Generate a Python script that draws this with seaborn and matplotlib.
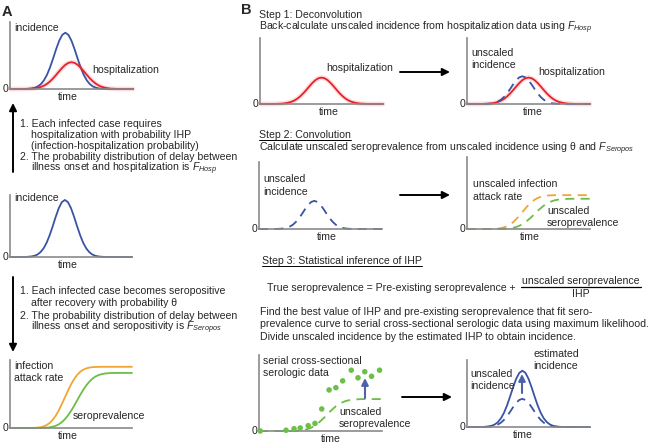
import matplotlib
matplotlib.use('Agg')
import matplotlib.pyplot as plt
import seaborn as sns

# time grid shared by every schematic curve
time_pts = [0, 0.25, 0.5, 0.75, 1, 1.25, 1.5, 1.75, 2, 2.25, 2.5, 2.75, 3, 3.25, 3.5, 3.75,
            4, 4.25, 4.5, 4.75, 5, 5.25, 5.5, 5.75, 6, 6.25, 6.5, 6.75, 7, 7.25, 7.5, 7.75,
            8, 8.25, 8.5, 8.75, 9, 9.25, 9.5, 9.75, 10]

# curve heights (fraction of each little axis)
incidence = [0, 0, 0, 0, 0, 0.001, 0.003, 0.008, 0.018, 0.037, 0.071, 0.127, 0.209, 0.32, 0.453,
             0.594, 0.72, 0.808, 0.84, 0.808, 0.72, 0.594, 0.453, 0.32, 0.209, 0.127, 0.071, 0.037,
             0.018, 0.008, 0.003, 0.001, 0, 0, 0, 0, 0, 0, 0, 0, 0]
incidence_mid = [0, 0, 0, 0, 0, 0.001, 0.004, 0.009, 0.019, 0.04, 0.078, 0.139, 0.229, 0.351, 0.496,
                 0.65, 0.788, 0.885, 0.92, 0.885, 0.788, 0.65, 0.496, 0.351, 0.229, 0.139, 0.078, 0.04,
                 0.019, 0.009, 0.004, 0.001, 0, 0, 0, 0, 0, 0, 0, 0, 0]
hospitalization = [0, 0, 0, 0, 0, 0.001, 0.003, 0.005, 0.01, 0.018, 0.03, 0.049, 0.076, 0.113, 0.158,
                   0.21, 0.265, 0.317, 0.361, 0.39, 0.4, 0.39, 0.361, 0.317, 0.265, 0.21, 0.158, 0.113,
                   0.076, 0.049, 0.03, 0.018, 0.01, 0.005, 0.003, 0.001, 0, 0, 0, 0, 0]
unscaled_incidence = [0, 0, 0, 0, 0, 0.001, 0.002, 0.004, 0.009, 0.018, 0.036, 0.063, 0.105, 0.16, 0.226,
                      0.297, 0.36, 0.404, 0.42, 0.404, 0.36, 0.297, 0.226, 0.16, 0.105, 0.063, 0.036, 0.018,
                      0.009, 0.004, 0.002, 0.001, 0, 0, 0, 0, 0, 0, 0, 0, 0]
attack_rate = [0, 0, 0, 0, 0, 0, 0, 0.001, 0.003, 0.005, 0.012, 0.023, 0.043, 0.074, 0.12, 0.182,
               0.26, 0.352, 0.45, 0.548, 0.64, 0.718, 0.78, 0.826, 0.857, 0.877, 0.888, 0.895, 0.897,
               0.899, 0.9, 0.9, 0.9, 0.9, 0.9, 0.9, 0.9, 0.9, 0.9, 0.9, 0.9]
seroprevalence = [0, 0, 0, 0, 0, 0, 0, 0, 0, 0, 0.001, 0.002, 0.005, 0.01, 0.019, 0.032, 0.054, 0.086,
                  0.129, 0.184, 0.25, 0.325, 0.405, 0.485, 0.56, 0.626, 0.681, 0.724, 0.756, 0.778,
                  0.791, 0.8, 0.805, 0.808, 0.809, 0.81, 0.81, 0.81, 0.81, 0.81, 0.81]
unscaled_attack = [0, 0, 0, 0, 0, 0, 0, 0, 0.001, 0.003, 0.006, 0.012, 0.023, 0.039, 0.063, 0.095,
                   0.136, 0.184, 0.235, 0.286, 0.334, 0.375, 0.407, 0.431, 0.447, 0.458, 0.464, 0.467,
                   0.469, 0.47, 0.47, 0.47, 0.47, 0.47, 0.47, 0.47, 0.47, 0.47, 0.47, 0.47, 0.47]
unscaled_sero = [0, 0, 0, 0, 0, 0, 0, 0, 0, 0, 0, 0.001, 0.003, 0.005, 0.01, 0.017, 0.028, 0.044,
                 0.067, 0.095, 0.13, 0.168, 0.21, 0.252, 0.29, 0.325, 0.353, 0.375, 0.392, 0.403,
                 0.41, 0.415, 0.417, 0.419, 0.42, 0.42, 0.42, 0.42, 0.42, 0.42, 0.42]

# serial cross-sectional serologic data (step 3)
sero_t = [0.1, 2.2, 2.85, 3.35, 4.0, 4.55, 5.1, 5.7, 6.25, 6.8, 7.5, 8.05, 8.6, 9.15, 9.8]
sero_y = [0.0, 0.01, 0.03, 0.04, 0.07, 0.1, 0.29, 0.54, 0.57, 0.66, 0.8, 0.7, 0.78, 0.72, 0.8]

text_a1 = ["1. Each infected case requires",
           "hospitalization with probability IHP",
           "(infection-hospitalization probability)",
           "2. The probability distribution of delay between",
           r"illness onset and hospitalization is $\mathit{F}_{\mathit{Hosp}}$"]
text_a2 = ["1. Each infected case becomes seropositive",
           "after recovery with probability θ",
           "2. The probability distribution of delay between",
           r"illness onset and seropositivity is $\mathit{F}_{\mathit{Seropos}}$"]
text_step3 = ["Find the best value of IHP and pre-existing seroprevalence that fit sero-",
              "prevalence curve to serial cross-sectional serologic data using maximum likelihood.",
              "Divide unscaled incidence by the estimated IHP to obtain incidence."]

sns.set_style('white')
plt.rcParams['font.family'] = ['Liberation Sans', 'DejaVu Sans']
plt.rcParams['mathtext.fontset'] = 'custom'
plt.rcParams['mathtext.rm'] = 'Liberation Sans'
plt.rcParams['mathtext.it'] = 'Liberation Sans:italic'

FS = 7.6
BLUE = '#3a54a4'
RED = '#e5222b'
ORANGE = '#f1a534'
GREEN = '#6cbd45'
AXC = '#8a8a8a'
DASH = (0, (5, 3.5))

W, H = 653, 445
fig = plt.figure(figsize=(W / 100, H / 100), dpi=100)
fig.patch.set_facecolor('white')

# overlay in pixel units for all the words and arrows
ov = fig.add_axes([0, 0, 1, 1])
ov.set_xlim(0, W)
ov.set_ylim(H, 0)
ov.axis('off')
ov.set_zorder(10)
ov.patch.set_visible(False)


def txt(x, y, s, **kw):
    kw.setdefault('fontsize', FS)
    kw.setdefault('ha', 'left')
    kw.setdefault('va', 'center')
    return ov.text(x, y, s, **kw)


def panel(x0, x1, top, bottom, time_x):
    ax = fig.add_axes([x0 / W, 1 - bottom / H, (x1 - x0) / W, (bottom - top) / H])
    for s in ['top', 'right']:
        ax.spines[s].set_visible(False)
    for s in ['left', 'bottom']:
        ax.spines[s].set_color(AXC)
        ax.spines[s].set_linewidth(1.2)
    ax.set_xticks([])
    ax.set_yticks([])
    ax.patch.set_visible(False)
    txt(x0 - 2, bottom, '0', ha='right')
    txt(time_x, bottom + 8, 'time', ha='center')
    return ax


def finish(ax):
    ax.set_xlim(0, 10)
    ax.set_ylim(0, 1)
    ax.set_xlabel('')
    ax.set_ylabel('')


def curve(ax, y, color, dashed=False, halo=False):
    if halo:
        sns.lineplot(x=time_pts, y=y, ax=ax, color=color, lw=3.4, alpha=0.15, clip_on=False)
    sns.lineplot(x=time_pts, y=y, ax=ax, color=color, lw=1.3, clip_on=False,
                 linestyle=DASH if dashed else '-')


def arrow(x0, y0, x1, y1, color='k', lw=1.4, ms=11):
    ov.annotate('', xy=(x1, y1), xytext=(x0, y0),
                arrowprops=dict(arrowstyle='-|>', color=color, lw=lw, mutation_scale=ms,
                                shrinkA=0, shrinkB=0))


def underline(t, y):
    fig.canvas.draw()
    bb = t.get_window_extent()
    ov.plot([bb.x0, bb.x1], [y, y], color='k', lw=0.7)


# ---------------- panel A ----------------
txt(2, 12, 'A', fontsize=10.5, fontweight='bold')

ax = panel(10, 133, 22, 89, 68)
curve(ax, incidence, BLUE)
curve(ax, hospitalization, RED, halo=True)
finish(ax)
txt(14, 28, 'incidence')
txt(92, 70, 'hospitalization')

arrow(13, 172, 13, 103)
for i, (line, y) in enumerate(zip(text_a1, [124, 135, 146, 157, 169])):
    txt(20 if i in (0, 3) else 31, y, line)

ax = panel(10, 132, 195, 257, 68)
curve(ax, incidence_mid, BLUE)
finish(ax)
txt(14, 198, 'incidence')

arrow(13, 277, 13, 352)
for i, (line, y) in enumerate(zip(text_a2, [291, 303, 316, 328])):
    txt(20 if i in (0, 2) else 31, y, line)

ax = panel(10, 132, 360, 428, 68)
curve(ax, attack_rate, ORANGE)
curve(ax, seroprevalence, GREEN)
finish(ax)
txt(14, 366, 'infection')
txt(14, 378, 'attack rate')
txt(73, 416, 'seroprevalence')

# ---------------- panel B ----------------
txt(241, 10, 'B', fontsize=10.5, fontweight='bold')

# step 1
txt(259, 15, 'Step 1: Deconvolution')
txt(259, 28, r'Back-calculate unscaled incidence from hospitalization data using $\mathit{F}_{\mathit{Hosp}}$')

ax = panel(260, 383, 38, 104, 329)
curve(ax, hospitalization, RED, halo=True)
finish(ax)
txt(326, 68, 'hospitalization')
arrow(400, 72, 450, 72)

ax = panel(467, 590, 38, 104, 533)
curve(ax, hospitalization, RED, halo=True)
curve(ax, unscaled_incidence, BLUE, dashed=True)
finish(ax)
txt(471, 53, 'unscaled')
txt(471, 65, 'incidence')
txt(538, 72, 'hospitalization')

# step 2
s2 = txt(259, 134.5, 'Step 2: Convolution')
txt(259, 149, r'Calculate unscaled seroprevalence from unscaled incidence using θ and $\mathit{F}_{\mathit{Seropos}}$')

ax = panel(259, 382, 162, 229, 327)
curve(ax, unscaled_incidence, BLUE, dashed=True)
finish(ax)
txt(263, 179, 'unscaled')
txt(263, 192, 'incidence')
arrow(400, 195, 450, 195)

ax = panel(467, 590, 157, 229, 530)
curve(ax, unscaled_attack, ORANGE, dashed=True)
curve(ax, unscaled_sero, GREEN, dashed=True)
finish(ax)
txt(473, 184, 'unscaled infection')
txt(473, 197, 'attack rate')
txt(547, 211, 'unscaled')
txt(547, 223, 'seroprevalence')

# step 3
s3 = txt(262, 261, 'Step 3: Statistical inference of IHP')
txt(267, 288, 'True seroprevalence = Pre-existing seroprevalence +')
txt(581, 281, 'unscaled seroprevalence', ha='center')
ov.plot([521, 641], [287, 287], color='k', lw=0.9)
txt(581, 294, 'IHP', ha='center')
for line, y in zip(text_step3, [312, 324, 337]):
    txt(260, y, line)

ax = panel(259, 382, 355, 431, 331)
curve(ax, unscaled_sero, GREEN, dashed=True)
sns.scatterplot(x=sero_t, y=sero_y, ax=ax, color='#6cc04a', s=16, edgecolor='none',
                clip_on=False, zorder=5)
finish(ax)
txt(263, 361, 'serial cross-sectional')
txt(263, 373, 'serologic data')
txt(339, 412, 'unscaled')
txt(339, 424, 'seroprevalence')
arrow(365, 398, 365, 378, color='#4d62ab', lw=1.5, ms=10)
arrow(402, 397, 452, 397)

ax = panel(467, 590, 360, 427, 523)
curve(ax, incidence, BLUE)
curve(ax, unscaled_incidence, BLUE, dashed=True)
finish(ax)
txt(533, 354, 'estimated')
txt(533, 366, 'incidence')
txt(470, 374, 'unscaled')
txt(470, 386, 'incidence')
arrow(522, 393, 522, 374, color='#4d62ab', lw=1.5, ms=10)

# underline the step 2 / step 3 headings
underline(s2, 139.5)
underline(s3, 266)

fig.savefig('out.png', dpi=100, facecolor='white')
